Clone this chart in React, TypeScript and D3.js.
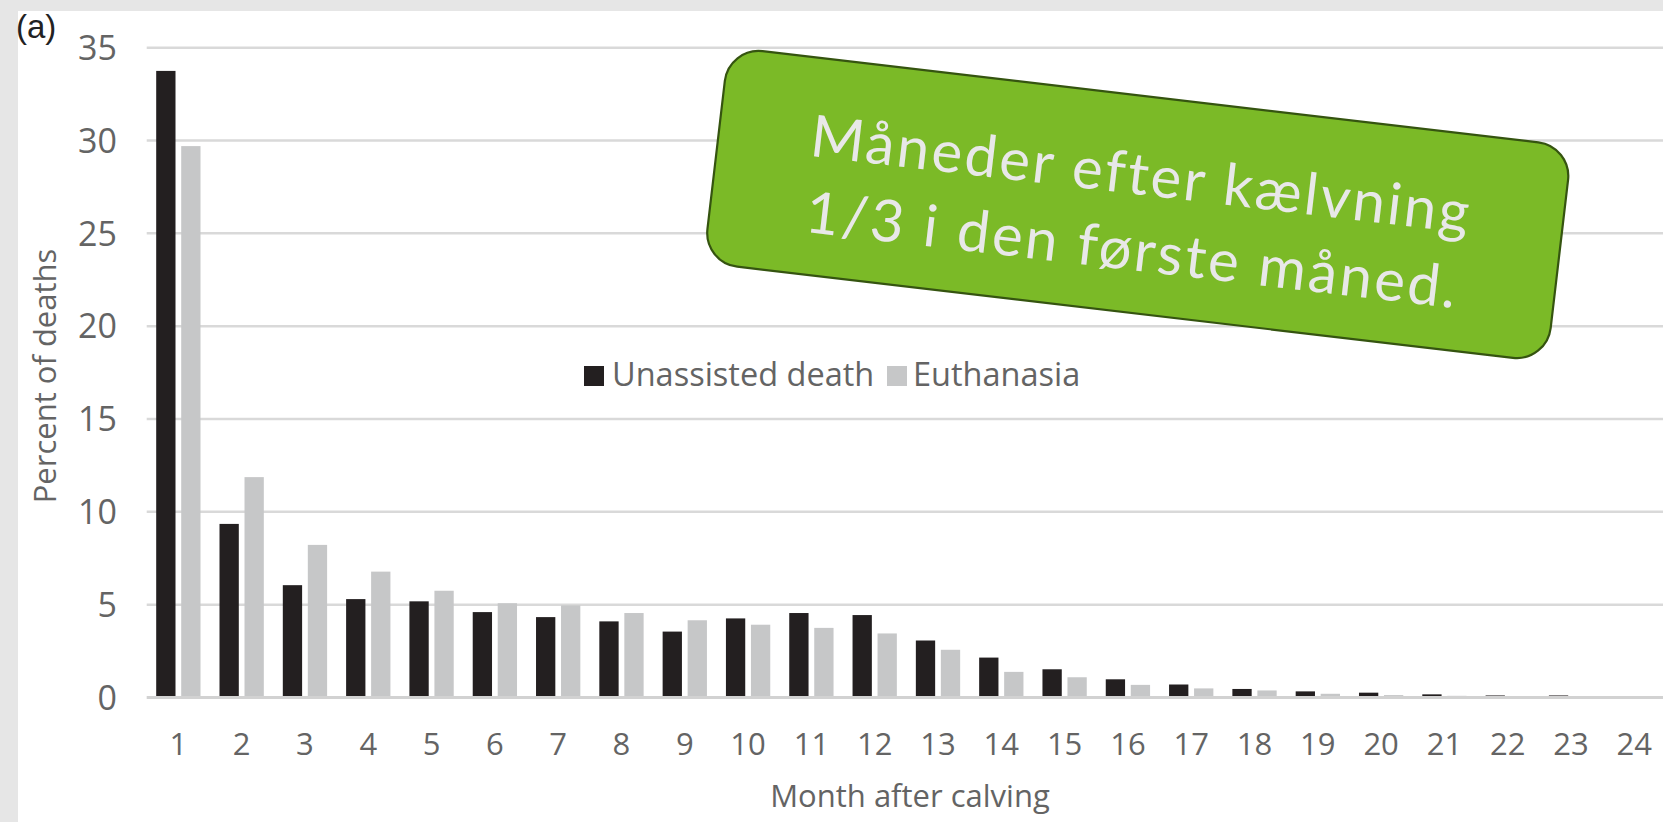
import React from "react";
import * as d3 from "d3";

const months = ["1","2","3","4","5","6","7","8","9","10","11","12","13","14","15","16","17","18","19","20","21","22","23","24"];
const unassisted = [33.75, 9.35, 6.05, 5.3, 5.18, 4.6, 4.33, 4.1, 3.55, 4.26, 4.55, 4.44, 3.07, 2.15, 1.52, 0.98, 0.7, 0.46, 0.33, 0.26, 0.17, 0.11, 0.11, 0.02];
const euthanasia = [29.7, 11.87, 8.22, 6.78, 5.75, 5.08, 4.96, 4.55, 4.16, 3.92, 3.75, 3.45, 2.57, 1.38, 1.09, 0.68, 0.49, 0.38, 0.2, 0.13, 0.09, 0.05, 0.04, 0.05];
const seriesNames = ["Unassisted death", "Euthanasia"];
const seriesColors = ["#231f20", "#c6c7c8"];
const yTicks = [0, 5, 10, 15, 20, 25, 30, 35];
const calloutLines = ["Måneder efter kælvning", "1/3 i den første måned."];

const W = 1663;
const H = 822;
const FONT = "'Open Sans', sans-serif";
const TXT = "#646464";

export default function App() {
  const x = d3.scaleBand<string>().domain(months).range([146.7, 1666]).padding(0);
  const xs = d3.scaleBand<string>().domain(seriesNames).range([0, x.bandwidth()]).paddingInner(0.228).paddingOuter(0.38);
  const y = d3.scaleLinear().domain([0, 35]).range([697.5, 47.7]);
  const values = [unassisted, euthanasia];

  return (
    <svg width={W} height={H} style={{ position: "absolute", left: 0, top: 0 }} xmlns="http://www.w3.org/2000/svg">
      <rect x={0} y={0} width={W} height={H} fill="#e6e6e6" />
      <rect x={18} y={11} width={W - 18} height={H - 11} fill="#ffffff" />
      <text x={16} y={38} fontFamily="'Liberation Sans', Arial, sans-serif" fontSize={33} fill="#222">(a)</text>

      {yTicks.filter((t) => t > 0).map((t) => (
        <line key={"g" + t} x1={146.7} x2={W} y1={y(t)} y2={y(t)} stroke="#d9d9d9" strokeWidth={2.5} />
      ))}

      {yTicks.map((t) => (
        <text key={"yt" + t} x={117} y={y(t)} dy="0.36em" textAnchor="end" fontFamily={FONT} fontSize={34} fill={TXT}>{t}</text>
      ))}

      {months.map((m, i) => (
        <g key={"m" + m}>
          {seriesNames.map((s, j) => {
            const v = values[j][i];
            return (
              <rect key={s} x={(x(m) as number) + (xs(s) as number)} y={y(v)} width={xs.bandwidth()} height={y(0) - y(v)} fill={seriesColors[j]} />
            );
          })}
        </g>
      ))}

      <line x1={146.7} x2={W} y1={y(0)} y2={y(0)} stroke="#d2d2d2" strokeWidth={2.8} />

      {months.map((m) => (
        <text key={"xt" + m} x={(x(m) as number) + x.bandwidth() / 2} y={755} textAnchor="middle" fontFamily={FONT} fontSize={31} fill={TXT}>{m}</text>
      ))}

      <text transform={`translate(56,376) rotate(-90)`} textAnchor="middle" fontFamily={FONT} fontSize={31} fill={TXT}>Percent of deaths</text>
      <text x={910} y={807} textAnchor="middle" fontFamily={FONT} fontSize={31} fill={TXT}>Month after calving</text>

      <g>
        <rect x={584} y={366} width={20} height={20} fill={seriesColors[0]} />
        <text x={612} y={386} fontFamily={FONT} fontSize={32.5} fill={TXT}>{seriesNames[0]}</text>
        <rect x={887} y={366} width={20} height={20} fill={seriesColors[1]} />
        <text x={913} y={386} fontFamily={FONT} fontSize={32.5} fill={TXT}>{seriesNames[1]}</text>
      </g>

      <g transform="translate(1137.75,204.5) rotate(6.7)">
        <rect x={-424.5} y={-108.5} width={849} height={217} rx={34} ry={34} fill="#7bba27" stroke="#355410" strokeWidth={2.2} />
        {calloutLines.map((l, i) => (
          <text key={"c" + i} x={0} y={-10 + i * 76} textAnchor="middle" fontFamily="Lato, sans-serif" fontWeight={400} letterSpacing={2.6} fontSize={58} fill="#e8e8e8">{l}</text>
        ))}
      </g>
    </svg>
  );
}
